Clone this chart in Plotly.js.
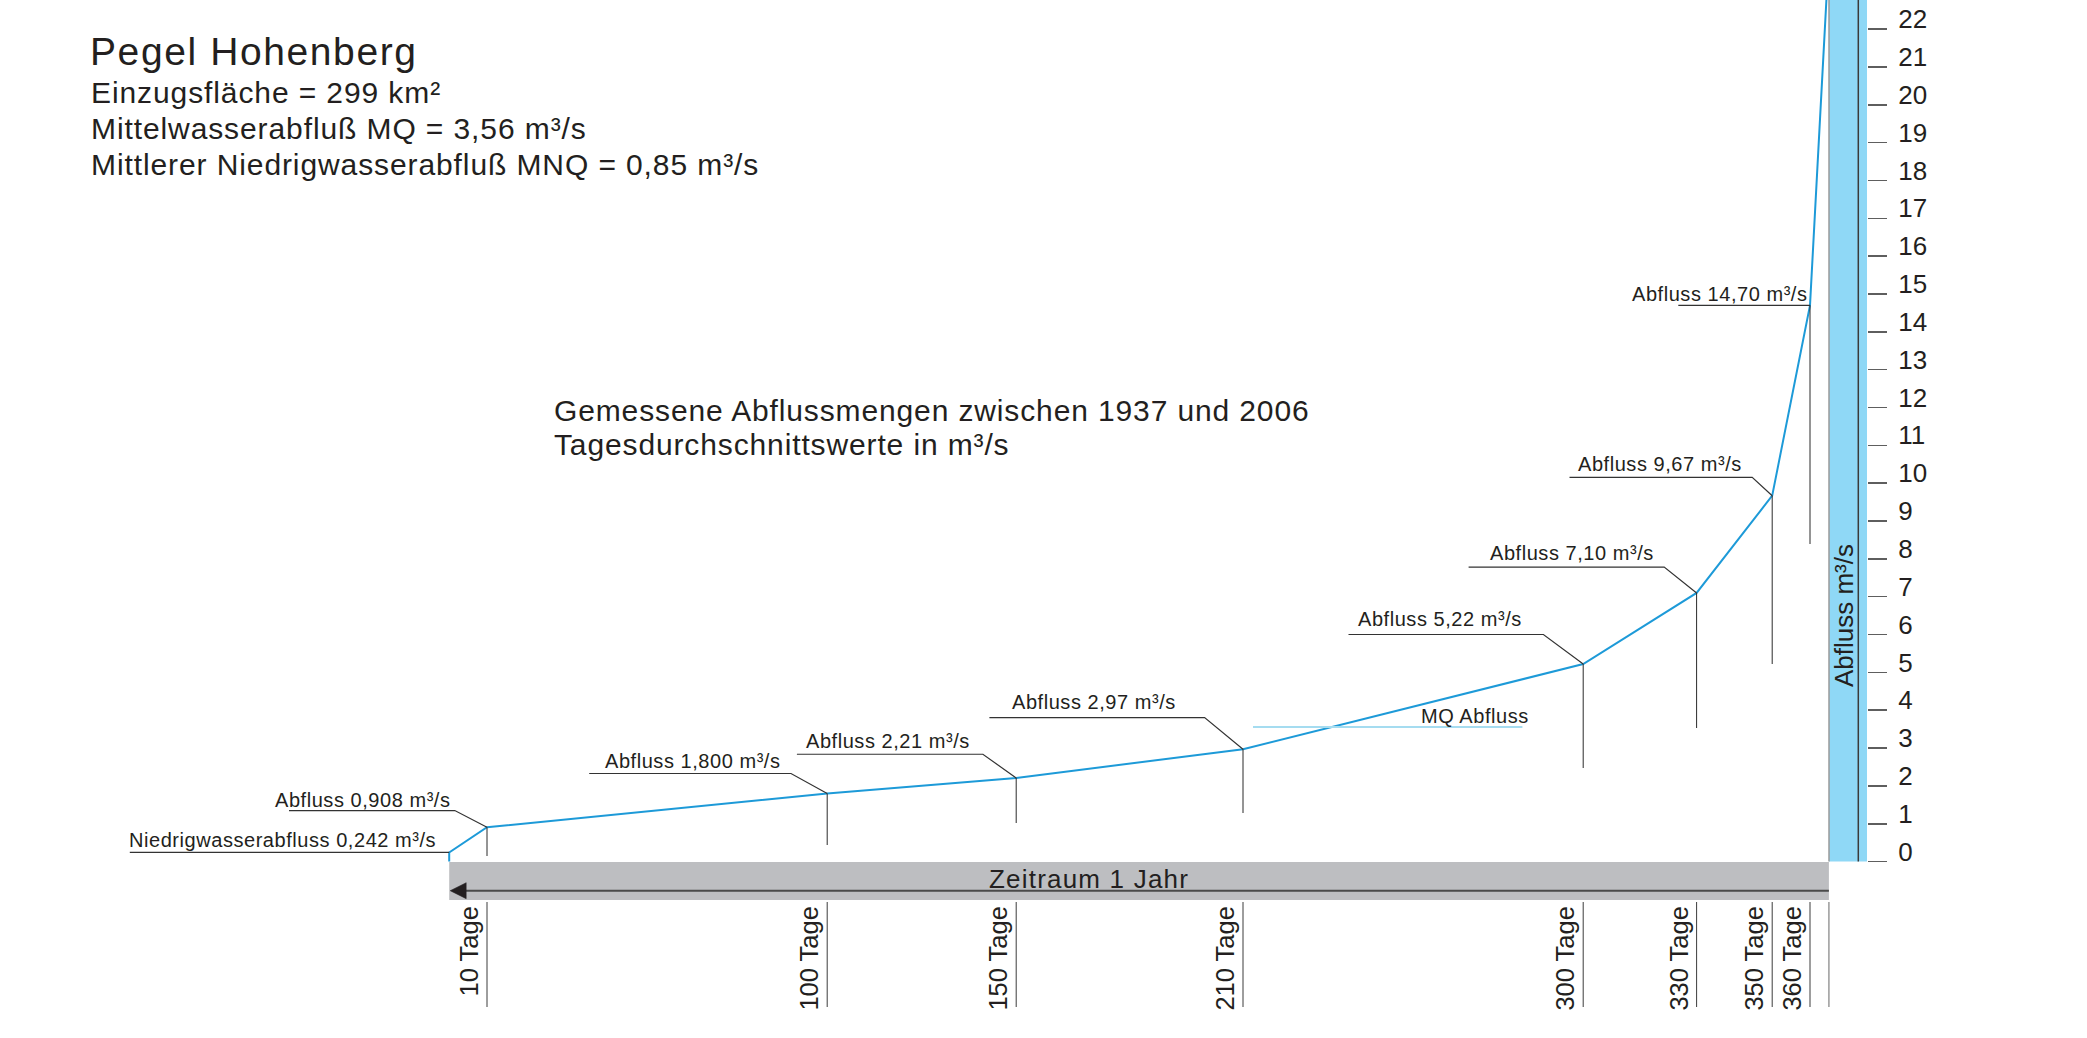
<!DOCTYPE html>
<html><head><meta charset="utf-8">
<script src="https://cdn.plot.ly/plotly-3.0.1.min.js"></script>
<style>html,body{margin:0;padding:0;background:#fff;overflow:hidden}</style>
</head><body>
<div id="chart" style="width:2087px;height:1038px"></div>
<script>
// ---------------- data ----------------
const days  = [0, 0, 10, 100, 150, 210, 300, 330, 350, 360, 365];
const flows = [0, 0.242, 0.908, 1.800, 2.21, 2.97, 5.22, 7.10, 9.67, 14.70, 24.0];
const pointLabels = [
  'Niedrigwasserabfluss 0,242 m³/s', 'Abfluss 0,908 m³/s', 'Abfluss 1,800 m³/s',
  'Abfluss 2,21 m³/s', 'Abfluss 2,97 m³/s', 'Abfluss 5,22 m³/s',
  'Abfluss 7,10 m³/s', 'Abfluss 9,67 m³/s', 'Abfluss 14,70 m³/s'];
const dayTicks = [10, 100, 150, 210, 300, 330, 350, 360];
const dayTickText = ['10 Tage', '100 Tage', '150 Tage', '210 Tage', '300 Tage', '330 Tage', '350 Tage', '360 Tage'];
const flowTicks = [0,1,2,3,4,5,6,7,8,9,10,11,12,13,14,15,16,17,18,19,20,21,22];
const MQ = 3.56;
const titleText = 'Pegel Hohenberg';
const infoLines = ['Einzugsfläche = 299 km²', 'Mittelwasserabfluß MQ = 3,56 m³/s', 'Mittlerer Niedrigwasserabfluß MNQ = 0,85 m³/s'];
const subtitleLines = ['Gemessene Abflussmengen zwischen 1937 und 2006', 'Tagesdurchschnittswerte in m³/s'];
const periodLabel = 'Zeitraum 1 Jahr';
const yTitle = 'Abfluss m³/s';
const mqLabel = 'MQ Abfluss';

// ---------------- layout geometry ----------------
const W = 2087, H = 1038;
const X0PX = 449.2, PXD = 3.78;    // pixel of day 0, pixels per day
const Y0PX = 861.6, PXQ = 37.84;   // pixel of 0 m³/s, pixels per m³/s
const px2d = px => (px - X0PX) / PXD;
const py2q = py => (Y0PX - py) / PXQ;
const pX = px => px / W;
const pY = py => (H - py) / H;
const F = 'Liberation Sans, Arial, Helvetica, sans-serif';
const TXT = '#231f20';
const ls = (t, s) => `<span style="letter-spacing:${s}px">${t}</span>`;

// leader geometry for each point label (pixel offsets from the point, y up)
const leaders = [
  {dy: 0,    xl: -319.4, xr: 0,     tx: -13.3, tb: 5.6},
  {dy: 16.7, xl: -198,   xr: -32.2, tx: -35.8, tb: 20.7},
  {dy: 20,   xl: -238,   xr: -36.2, tx: -46,   tb: 26},
  {dy: 23.7, xl: -219.3, xr: -33.3, tx: -45.9, tb: 30},
  {dy: 31.6, xl: -253.6, xr: -38.4, tx: -67.4, tb: 40.6},
  {dy: 29.6, xl: -234.7, xr: -39.8, tx: -61.3, tb: 38.3},
  {dy: 25.8, xl: -228,   xr: -32.4, tx: -42.6, tb: 33.3},
  {dy: 18.4, xl: -202.7, xr: -20,   tx: -30,   tb: 24.9},
  {dy: 0,    xl: -131.7, xr: 0,     tx: -1.7,  tb: 4.9}
];
const dropBottomPx = [856, 845, 823, 813, 768, 728, 664, 544];

const shapes = [];
const annotations = [];

// blue y-axis band
shapes.push({type:'rect', xref:'paper', yref:'paper', x0:pX(1829), x1:pX(1867), y0:pY(861.6), y1:1,
  fillcolor:'#8fd8f6', line:{width:0}, layer:'below'});
shapes.push({type:'line', xref:'paper', yref:'paper', x0:pX(1829), x1:pX(1829), y0:pY(861.6), y1:1,
  line:{color:'#9a9a9a', width:1.5}});
shapes.push({type:'line', xref:'paper', yref:'paper', x0:pX(1858.3), x1:pX(1858.3), y0:pY(861.6), y1:1,
  line:{color:'#3a3a3a', width:1.5}});

// grey time bar with arrow
shapes.push({type:'rect', xref:'x', yref:'paper', x0:0, x1:365, y0:pY(900), y1:pY(862),
  fillcolor:'#bdbec1', line:{width:0}, layer:'below'});
shapes.push({type:'line', xref:'x', yref:'paper', x0:px2d(462), x1:365, y0:pY(890.7), y1:pY(890.7),
  line:{color:'#4a4a4a', width:2}});
shapes.push({type:'path', xref:'x', yref:'y', xsizemode:'pixel', ysizemode:'pixel', xanchor:0, yanchor:py2q(890.7),
  path:'M 1 0 L 17 8 L 17 -8 Z', fillcolor:'#231f20', line:{color:'#231f20', width:0.5}});

// day lines below the bar
dayTicks.forEach(d => shapes.push({type:'line', xref:'x', yref:'paper', x0:d, x1:d, y0:pY(902), y1:pY(1007),
  line:{color:'#3c3c3c', width:1}}));
shapes.push({type:'line', xref:'x', yref:'paper', x0:365, x1:365, y0:pY(902), y1:pY(1007),
  line:{color:'#9a9a9a', width:1.5}});

// drop lines from the points
dayTicks.forEach((d, j) => {
  const q = flows[days.indexOf(d)];
  shapes.push({type:'line', xref:'x', yref:'y', x0:d, x1:d, y0:q, y1:py2q(dropBottomPx[j]),
    line:{color:'#2a2a2a', width:1}});
});

// MQ line
const mqX0 = px2d(1253), mqX1 = px2d(1522.4);
shapes.push({type:'line', xref:'x', yref:'y', x0:mqX0, x1:mqX1, y0:MQ, y1:MQ,
  line:{color:'#a5dcf0', width:2}});
annotations.push({xref:'x', yref:'y', x:mqX1, y:MQ, xanchor:'right', yanchor:'middle', showarrow:false,
  xshift:6.2 + 2, yshift:4 + 0.3465*20, text:ls(mqLabel, 0.55), font:{family:F, size:20, color:TXT}});

// leaders and point labels
pointLabels.forEach((lab, i) => {
  const g = leaders[i];
  const d = days[i+1], q = flows[i+1];
  const path = (g.xr === 0 && g.dy === 0) ? `M ${g.xl} 0 L 0 0`
    : `M ${g.xl} ${g.dy} L ${g.xr} ${g.dy} L 0 0`;
  shapes.push({type:'path', xref:'x', yref:'y', xsizemode:'pixel', ysizemode:'pixel', xanchor:d, yanchor:q,
    path:path, line:{color:'#333333', width:1.2}});
  annotations.push({xref:'x', yref:'y', x:d, y:q, xanchor:'right', yanchor:'middle', showarrow:false,
    xshift:g.tx + 2, yshift:g.tb + 0.3465*20, text:ls(lab, 0.55), font:{family:F, size:20, color:TXT}});
});

// header texts
annotations.push({xref:'paper', yref:'paper', x:pX(88), y:pY(65 - 0.3465*39), xanchor:'left', yanchor:'middle',
  showarrow:false, text:ls(titleText, 1.6), font:{family:F, size:39, color:TXT}});
const infoBase = [103.3, 139.3, 175];
infoLines.forEach((t, i) => annotations.push({xref:'paper', yref:'paper', x:pX(88.6), y:pY(infoBase[i] - 0.3465*30),
  xanchor:'left', yanchor:'middle', showarrow:false, text:ls(t, 0.9), font:{family:F, size:30, color:TXT}}));
const subBase = [421, 455];
subtitleLines.forEach((t, i) => annotations.push({xref:'paper', yref:'paper', x:pX(551.6), y:pY(subBase[i] - 0.3465*30),
  xanchor:'left', yanchor:'middle', showarrow:false, text:ls(t, 0.87), font:{family:F, size:30, color:TXT}}));
annotations.push({xref:'paper', yref:'paper', x:pX(1089), y:pY(888.3 - 0.3465*26), xanchor:'center', yanchor:'middle',
  showarrow:false, text:ls(periodLabel, 1.2), font:{family:F, size:26, color:TXT}});
annotations.push({xref:'paper', yref:'paper', x:pX(1843.3), y:pY(615.8), xanchor:'center', yanchor:'middle',
  textangle:-90, showarrow:false, text:yTitle, font:{family:F, size:26, color:TXT}});

const trace = {type:'scatter', mode:'lines', x:days, y:flows, line:{color:'#1d9ad8', width:2}, hoverinfo:'skip'};

const layout = {
  width:W, height:H, margin:{l:0, r:0, t:0, b:0}, paper_bgcolor:'#fff', plot_bgcolor:'rgba(0,0,0,0)',
  showlegend:false, font:{family:F, color:TXT},
  xaxis:{range:[px2d(0), px2d(W)], domain:[0,1], anchor:'free', position:pY(900),
    tickmode:'array', tickvals:dayTicks, ticktext:dayTickText, tickangle:-90, ticks:'',
    showline:false, showgrid:false, zeroline:false, tickfont:{family:F, size:25.5, color:TXT},
    ticklabelshift:-17, ticklabelstandoff:0, fixedrange:true},
  yaxis:{range:[py2q(H), py2q(0)], domain:[0,1], anchor:'free', position:pX(1867), side:'right',
    tickmode:'array', tickvals:flowTicks, ticktext:flowTicks.map(String), ticks:'outside', ticklen:19,
    tickwidth:1.5, tickcolor:'#5e5e5e', showline:false, showgrid:false, zeroline:false,
    tickfont:{family:F, size:26, color:TXT}, ticklabelshift:-10, ticklabelstandoff:6, fixedrange:true},
  shapes:shapes, annotations:annotations
};

Plotly.newPlot('chart', [trace], layout, {displayModeBar:false, staticPlot:true});
</script>
</body></html>
